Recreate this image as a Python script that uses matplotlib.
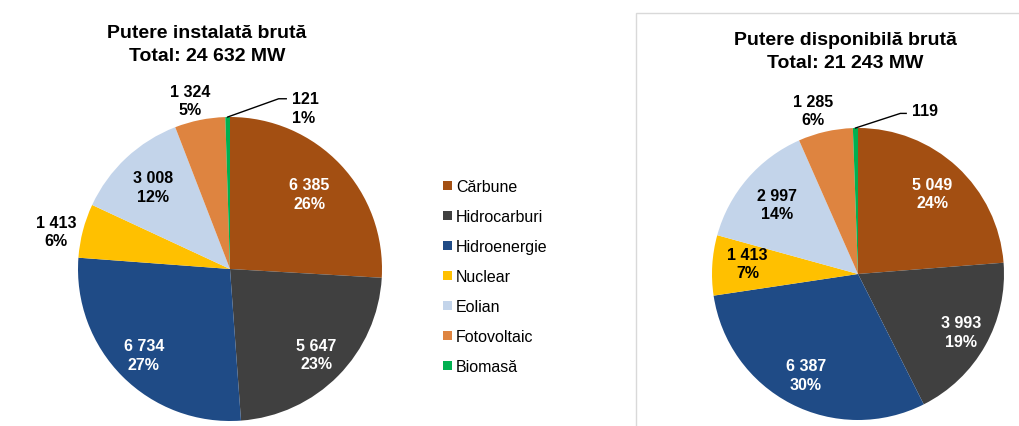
import matplotlib
matplotlib.use("Agg")
import matplotlib.pyplot as plt
import numpy as np
from matplotlib.patches import Patch, Rectangle

plt.rcParams['font.family'] = ['Liberation Sans', 'DejaVu Sans']

categorii = ['Cărbune', 'Hidrocarburi', 'Hidroenergie', 'Nuclear', 'Eolian', 'Fotovoltaic', 'Biomasă']
culori = ['#A34F12', '#404040', '#1F4B86', '#FFC000', '#C3D4EA', '#DE8440', '#00B050']

instalata = [6385, 5647, 6734, 1413, 3008, 1324, 121]
instalata_pct = [26, 23, 27, 6, 12, 5, 1]
disponibila = [5049, 3993, 6387, 1413, 2997, 1285, 119]
disponibila_pct = [24, 19, 30, 7, 14, 6, 1]

titlu_st = 'Putere instalată brută\nTotal: 24 632 MW'
titlu_dr = 'Putere disponibilă brută\nTotal: 21 243 MW'

W, H = 1020, 427
K = 1.7
FS_ETICHETA = 11.5
LS_ETICHETA = 1.28


def fmt(v):
    return f'{v:,}'.replace(',', ' ')


def axe_pie(fig, cx, cy, r):
    # axe patrate centrate pe (cx, cy) in pixeli, raza 1 = r pixeli
    half = r * K
    ax = fig.add_axes([(cx - half) / W, (H - cy - half) / H, 2 * half / W, 2 * half / H])
    return ax


def deseneaza(ax, valori, pct, pozitii, culori_text, leader, arata_pct_mic):
    wedges, _ = ax.pie(valori, colors=culori, startangle=90, counterclock=False,
                       radius=1, wedgeprops=dict(linewidth=0))
    # pie() isi pune singur limitele, le refacem dupa
    ax.set_xlim(-K, K)
    ax.set_ylim(-K, K)
    ax.axis('off')
    for i, w in enumerate(wedges):
        if pozitii[i] is None:
            continue
        raza, dt = pozitii[i]
        theta = np.deg2rad((w.theta1 + w.theta2) / 2 + dt)
        x, y = raza * np.cos(theta), raza * np.sin(theta)
        ax.text(x, y, f'{fmt(valori[i])}\n{pct[i]}%', ha='center', va='center',
                fontsize=FS_ETICHETA, fontweight='bold', color=culori_text[i],
                linespacing=LS_ETICHETA)
    # eticheta cu linie pentru biomasa
    w = wedges[-1]
    theta = np.deg2rad((w.theta1 + w.theta2) / 2)
    x0, y0 = np.cos(theta), np.sin(theta)
    (x1, y1), (x2, y2), (tx, ty) = leader
    ax.plot([x0, x1, x2], [y0, y1, y2], color='black', lw=1, clip_on=False)
    txt = fmt(valori[-1]) + (f'\n{pct[-1]}%' if arata_pct_mic else '')
    ax.text(tx, ty, txt, ha='left', va='center', fontsize=FS_ETICHETA, fontweight='bold',
            color='black', linespacing=LS_ETICHETA)
    return wedges


fig = plt.figure(figsize=(W / 100, H / 100), dpi=100)

# chenarul graficului din dreapta
fig.patches.append(Rectangle((636 / W, -0.1), 1.0, (H - 14) / H + 0.1, transform=fig.transFigure,
                             fill=False, edgecolor='#D9D9D9', lw=1))

ax1 = axe_pie(fig, 230, 270, 152)
deseneaza(ax1, instalata, instalata_pct,
          [(0.72, 0), (0.8, 0), (0.8, 0), (1.17, 2.5), (0.74, 0), (1.14, 2), None],
          ['white', 'white', 'white', 'black', 'black', 'black', 'black'],
          [(0.32, 1.12), (0.37, 1.12), (0.41, 1.06)], True)
fig.text(207 / W, 1 - 45 / H, titlu_st, ha='center', va='center', fontsize=14,
         fontweight='bold', linespacing=1.5)

ax2 = axe_pie(fig, 858, 275, 146)
deseneaza(ax2, disponibila, disponibila_pct,
          [(0.75, 0), (0.81, 0), (0.78, 0), (0.76, -2), (0.73, 0), (1.16, 2.5), None],
          ['white', 'white', 'white', 'black', 'black', 'black', 'black'],
          [(0.29, 1.10), (0.33, 1.10), (0.37, 1.12)], False)
fig.text(845 / W, 1 - 52 / H, titlu_dr, ha='center', va='center', fontsize=14,
         fontweight='bold', linespacing=1.4)

handles = [Patch(facecolor=c, edgecolor='none') for c in culori]
fig.legend(handles, categorii, loc='upper left', bbox_to_anchor=(443 / W, 1 - 180 / H),
           frameon=False, fontsize=11.5, handlelength=0.55, handleheight=0.55,
           handletextpad=0.25, labelspacing=0.94, borderpad=0, borderaxespad=0)

fig.savefig('out.png', dpi=100)
